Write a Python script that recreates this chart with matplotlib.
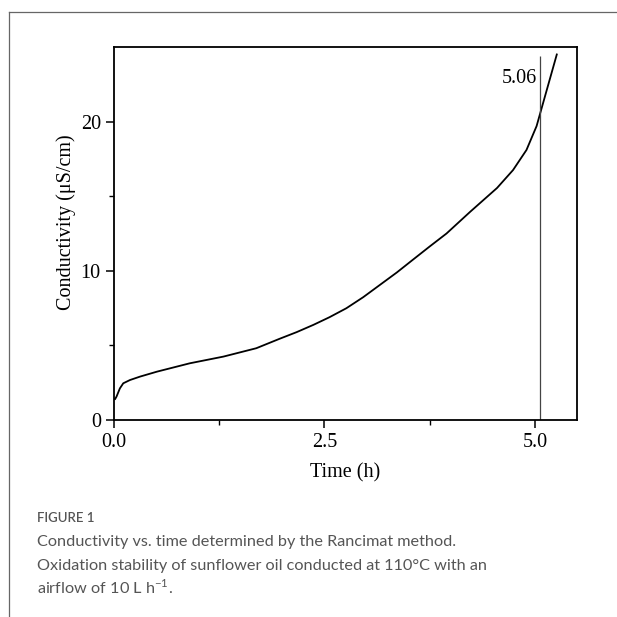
import matplotlib
matplotlib.use("Agg")
import matplotlib.pyplot as plt
from matplotlib.lines import Line2D

# values
time_h = [0.0, 0.012, 0.03, 0.07, 0.11, 0.19, 0.31, 0.51, 0.90, 1.30, 1.69, 1.97,
          2.17, 2.37, 2.56, 2.76, 2.96, 3.16, 3.36, 3.55, 3.75, 3.95, 4.23, 4.55,
          4.74, 4.90, 5.02, 5.08, 5.14, 5.20, 5.26]
conductivity = [1.42, 1.39, 1.57, 2.12, 2.46, 2.68, 2.91, 3.24, 3.80, 4.25, 4.81, 5.45,
                5.89, 6.38, 6.89, 7.49, 8.23, 9.06, 9.89, 10.74, 11.63, 12.5, 13.95, 15.55,
                16.75, 18.1, 19.7, 20.9, 22.1, 23.3, 24.5]
induction_time = 5.06
x_ticks = [0.0, 2.5, 5.0]
y_ticks = [0, 10, 20]

caption_title = "FIGURE 1"
caption_lines = [
    "Conductivity vs. time determined by the Rancimat method.",
    "Oxidation stability of sunflower oil conducted at 110\u00b0C with an",
    "airflow of 10 L h$^{\\mathregular{-1}}$.",
]

plt.rcParams['mathtext.fontset'] = 'custom'
plt.rcParams['mathtext.rm'] = 'Lato'

fig = plt.figure(figsize=(6.17, 6.17), dpi=100)
W = H = 617.0

# outer frame of the figure panel
fig.add_artist(Line2D([9 / W, 9 / W], [0, 1 - 12 / H], color='#666666', lw=0.9,
                      transform=fig.transFigure))
fig.add_artist(Line2D([9 / W, 1], [1 - 12 / H, 1 - 12 / H], color='#666666', lw=0.9,
                      transform=fig.transFigure))

ax = fig.add_axes([114 / W, 1 - 420 / H, (577 - 114) / W, (420 - 47) / H])
ax.plot(time_h, conductivity, color='black', lw=1.3)
ax.vlines(induction_time, 0, 24.4, color='#444444', lw=0.9)
ax.text(induction_time - 0.04, 22.6, "%.2f" % induction_time, ha='right', va='baseline',
        fontsize=14.5, family='Liberation Serif')

ax.set_xlim(0, 5.5)
ax.set_ylim(0, 25)
ax.set_xticks(x_ticks)
ax.set_xticklabels(["%.1f" % v for v in x_ticks])
ax.set_yticks(y_ticks)
ax.set_xticks([1.25, 3.75], minor=True)
ax.set_yticks([5, 15], minor=True)
ax.tick_params(which='major', direction='out', length=6, width=1.1, labelsize=14.5)
ax.tick_params(which='minor', direction='out', length=3.5, width=1.0)
for lab in ax.get_xticklabels() + ax.get_yticklabels():
    lab.set_family('Liberation Serif')
for sp in ax.spines.values():
    sp.set_linewidth(1.3)

ax.set_xlabel("Time (h)", fontsize=14.5, family='Liberation Serif')
ax.set_ylabel("Conductivity (\u03bcS/cm)", fontsize=14.5, family='Liberation Serif')
ax.xaxis.set_label_coords(0.5, -0.117)
ax.yaxis.set_label_coords(-0.083, 0.53)

# caption
fig.text(37 / W, 1 - 522 / H, caption_title, fontsize=9.5, color='#555555',
         family='Lato', fontweight='semibold', ha='left', va='baseline')
for i, line in enumerate(caption_lines):
    fig.text(37 / W, 1 - (546 + 24 * i) / H, line, fontsize=11.7, color='#555555',
             family='Lato', ha='left', va='baseline')

fig.savefig("out.png", dpi=100)
